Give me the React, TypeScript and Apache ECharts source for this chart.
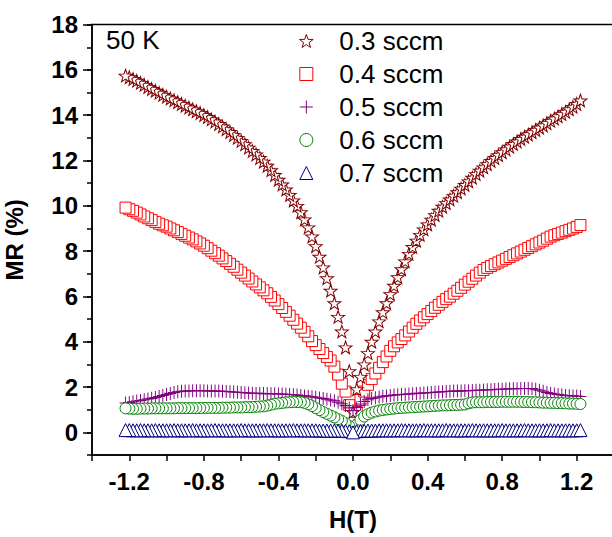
import React, { useEffect, useRef } from 'react';
import * as echarts from 'echarts';

// Magnetic field H (T)
const H = [
  -1.22, -1.2, -1.18, -1.16, -1.14, -1.12, -1.1, -1.08, -1.06, -1.04, -1.02, -1.0,
  -0.98, -0.96, -0.94, -0.92, -0.9, -0.88, -0.86, -0.84, -0.82, -0.8,
  -0.78, -0.76, -0.74, -0.72, -0.7, -0.68, -0.66, -0.64, -0.62, -0.6,
  -0.58, -0.56, -0.54, -0.52, -0.5, -0.48, -0.46, -0.44, -0.42, -0.4,
  -0.38, -0.36, -0.34, -0.32, -0.3, -0.28, -0.26, -0.24, -0.22, -0.2,
  -0.18, -0.16, -0.14, -0.12, -0.1, -0.08, -0.06, -0.04, -0.02, 0,
  0.02, 0.04, 0.06, 0.08, 0.1, 0.12, 0.14, 0.16, 0.18, 0.2,
  0.22, 0.24, 0.26, 0.28, 0.3, 0.32, 0.34, 0.36, 0.38, 0.4,
  0.42, 0.44, 0.46, 0.48, 0.5, 0.52, 0.54, 0.56, 0.58, 0.6,
  0.62, 0.64, 0.66, 0.68, 0.7, 0.72, 0.74, 0.76, 0.78, 0.8,
  0.82, 0.84, 0.86, 0.88, 0.9, 0.92, 0.94, 0.96, 0.98, 1.0,
  1.02, 1.04, 1.06, 1.08, 1.1, 1.12, 1.14, 1.16, 1.18, 1.2, 1.22,
];

// MR (%) for each gas flow
const MR_03 = [
  15.75, 15.68, 15.6, 15.52, 15.43, 15.34, 15.25, 15.16, 15.08, 14.99, 14.9, 14.82,
  14.74, 14.66, 14.58, 14.5, 14.42, 14.34, 14.26, 14.18, 14.1, 14.01,
  13.92, 13.82, 13.72, 13.61, 13.5, 13.38, 13.26, 13.13, 13.0, 12.86,
  12.72, 12.57, 12.42, 12.27, 12.11, 11.95, 11.77, 11.57, 11.36, 11.15,
  10.94, 10.72, 10.48, 10.24, 10.0, 9.72, 9.4, 9.05, 8.65, 8.22,
  7.75, 7.28, 6.8, 6.25, 5.7, 5.1, 4.45, 3.75, 2.7, 0.9,
  1.9, 2.45, 3.0, 3.5, 4.0, 4.45, 4.9, 5.3, 5.7, 6.1,
  6.47, 6.85, 7.2, 7.55, 7.88, 8.18, 8.46, 8.72, 8.96, 9.18,
  9.39, 9.59, 9.78, 9.96, 10.12, 10.28, 10.44, 10.6, 10.76, 10.92,
  11.08, 11.24, 11.4, 11.55, 11.7, 11.84, 11.98, 12.11, 12.24, 12.37,
  12.49, 12.61, 12.73, 12.84, 12.95, 13.05, 13.15, 13.25, 13.35, 13.45,
  13.55, 13.65, 13.75, 13.85, 13.95, 14.05, 14.15, 14.26, 14.37, 14.5, 14.65,
];

const MR_04 = [
  9.92, 9.85, 9.78, 9.7, 9.62, 9.53, 9.45, 9.37, 9.29, 9.21, 9.14, 9.08,
  9.0, 8.92, 8.84, 8.76, 8.68, 8.6, 8.52, 8.43, 8.34, 8.24,
  8.13, 8.02, 7.91, 7.8, 7.68, 7.56, 7.44, 7.31, 7.18, 7.05,
  6.92, 6.79, 6.66, 6.53, 6.4, 6.27, 6.14, 5.98, 5.82, 5.66,
  5.49, 5.32, 5.15, 4.97, 4.8, 4.62, 4.44, 4.24, 4.03, 3.85,
  3.68, 3.5, 3.33, 3.17, 2.9, 2.55, 2.15, 1.8, 1.2, 0.05,
  0.9, 1.43, 1.8, 2.1, 2.35, 2.6, 2.85, 3.1, 3.35, 3.6,
  3.8, 3.97, 4.12, 4.28, 4.45, 4.62, 4.79, 4.94, 5.08, 5.22,
  5.36, 5.5, 5.63, 5.76, 5.88, 5.99, 6.12, 6.25, 6.38, 6.52,
  6.65, 6.78, 6.92, 7.05, 7.17, 7.26, 7.34, 7.42, 7.5, 7.58,
  7.66, 7.74, 7.82, 7.9, 7.98, 8.06, 8.14, 8.22, 8.3, 8.38,
  8.46, 8.55, 8.64, 8.7, 8.76, 8.82, 8.88, 8.94, 9.0, 9.07, 9.15,
];

const MR_05 = [
  1.3, 1.32, 1.35, 1.38, 1.41, 1.44, 1.47, 1.5, 1.54, 1.58, 1.63, 1.67,
  1.72, 1.76, 1.79, 1.81, 1.82, 1.83, 1.84, 1.84, 1.84, 1.84,
  1.83, 1.83, 1.82, 1.82, 1.81, 1.8, 1.79, 1.78, 1.77, 1.76,
  1.75, 1.74, 1.73, 1.72, 1.72, 1.71, 1.71, 1.7, 1.7, 1.69,
  1.69, 1.68, 1.67, 1.66, 1.65, 1.63, 1.61, 1.59, 1.57, 1.55,
  1.52, 1.49, 1.46, 1.43, 1.39, 1.33, 1.26, 1.18, 1.08, 0.95,
  1.1, 1.25, 1.36, 1.44, 1.49, 1.53, 1.56, 1.59, 1.61, 1.63,
  1.65, 1.66, 1.67, 1.68, 1.69, 1.7, 1.72, 1.73, 1.74, 1.75,
  1.76, 1.77, 1.78, 1.79, 1.8, 1.81, 1.82, 1.82, 1.83, 1.84,
  1.84, 1.85, 1.86, 1.86, 1.87, 1.88, 1.88, 1.89, 1.9, 1.9,
  1.91, 1.92, 1.92, 1.93, 1.94, 1.94, 1.94, 1.93, 1.9, 1.86,
  1.81, 1.76, 1.72, 1.69, 1.67, 1.65, 1.63, 1.62, 1.61, 1.6, 1.58,
];

const MR_06 = [
  1.06, 1.05, 1.04, 1.04, 1.05, 1.05, 1.05, 1.06, 1.06, 1.06, 1.06, 1.06,
  1.06, 1.06, 1.07, 1.07, 1.07, 1.07, 1.07, 1.07, 1.07, 1.08,
  1.08, 1.08, 1.08, 1.08, 1.09, 1.09, 1.09, 1.1, 1.1, 1.1,
  1.11, 1.11, 1.12, 1.13, 1.14, 1.15, 1.18, 1.22, 1.26, 1.28,
  1.3, 1.32, 1.33, 1.34, 1.34, 1.33, 1.3, 1.24, 1.16, 1.07,
  0.98, 0.9, 0.82, 0.74, 0.66, 0.58, 0.5, 0.4, 0.28, 0.02,
  0.35, 0.55, 0.7, 0.8, 0.87, 0.92, 0.96, 0.99, 1.01, 1.03,
  1.05, 1.07, 1.08, 1.09, 1.1, 1.11, 1.12, 1.13, 1.14, 1.15,
  1.16, 1.17, 1.18, 1.19, 1.19, 1.2, 1.21, 1.21, 1.22, 1.23,
  1.28, 1.32, 1.33, 1.33, 1.33, 1.34, 1.34, 1.34, 1.34, 1.35,
  1.35, 1.35, 1.35, 1.35, 1.35, 1.34, 1.34, 1.33, 1.33, 1.32,
  1.31, 1.31, 1.3, 1.3, 1.29, 1.29, 1.28, 1.27, 1.27, 1.26, 1.25,
];

const MR_07 = [
  0.1, 0.1, 0.09, 0.09, 0.1, 0.09, 0.09, 0.09, 0.1, 0.09, 0.09, 0.09,
  0.09, 0.1, 0.09, 0.09, 0.09, 0.09, 0.1, 0.09, 0.09, 0.09,
  0.09, 0.09, 0.1, 0.09, 0.09, 0.09, 0.09, 0.09, 0.09, 0.1,
  0.09, 0.09, 0.09, 0.09, 0.09, 0.09, 0.1, 0.09, 0.09, 0.09,
  0.09, 0.09, 0.09, 0.1, 0.09, 0.09, 0.09, 0.09, 0.09, 0.09,
  0.08, 0.08, 0.08, 0.08, 0.08, 0.07, 0.07, 0.06, 0.05, 0.0,
  0.05, 0.06, 0.07, 0.08, 0.08, 0.08, 0.09, 0.09, 0.09, 0.09,
  0.09, 0.09, 0.1, 0.09, 0.09, 0.09, 0.09, 0.09, 0.1, 0.09,
  0.09, 0.09, 0.09, 0.09, 0.1, 0.09, 0.09, 0.09, 0.09, 0.09,
  0.09, 0.1, 0.09, 0.09, 0.09, 0.09, 0.09, 0.09, 0.09, 0.1,
  0.09, 0.09, 0.09, 0.09, 0.09, 0.1, 0.09, 0.09, 0.09, 0.09,
  0.09, 0.09, 0.1, 0.09, 0.09, 0.09, 0.09, 0.09, 0.09, 0.09, 0.1,
];

const SERIES_NAMES = ['0.3 sccm', '0.4 sccm', '0.5 sccm', '0.6 sccm', '0.7 sccm'];
const X_TICK_LABELS = ['-1.2', '-0.8', '-0.4', '0.0', '0.4', '0.8', '1.2'];
const Y_TICK_LABELS = ['0', '2', '4', '6', '8', '10', '12', '14', '16', '18'];
const TEMPERATURE = '50 K';

const FONT = "'Liberation Sans', Arial, Helvetica, sans-serif";

const STAR =
  'path://M50,0L61.76,33.82L97.55,34.55L69.02,56.18L79.39,90.45L50,70L20.61,90.45L30.98,56.18L2.45,34.55L38.24,33.82Z';
const SQUARE = 'path://M0,0L100,0L100,100L0,100Z';
const PLUS = 'path://M50,0L50,100M0,50L100,50';
const TRIANGLE = 'path://M50,0L100,100L0,100Z';

// draw order: right sweep outward, left sweep outward, zero-field point last
function drawOrder(): number[] {
  const c = H.indexOf(0);
  const o: number[] = [];
  for (let i = c + 1; i < H.length; i++) o.push(i);
  for (let i = c - 1; i >= 0; i--) o.push(i);
  o.push(c);
  return o;
}

export default function App() {
  const ref = useRef<HTMLDivElement>(null);

  useEffect(() => {
    if (!ref.current) return;
    const chart = echarts.init(ref.current, undefined, { renderer: 'svg' });
    const order = drawOrder();
    const pts = (mr: number[]) => order.map((i) => [H[i], mr[i]]);

    const axisLine = { show: true, onZero: false, lineStyle: { color: '#000', width: 1.5 } };
    const labelStyle = { fontSize: 24, fontWeight: 'bold', color: '#000', fontFamily: FONT };

    const mk = (name: string, mr: number[], symbol: string, size: any, color: string, z: number) => ({
      type: 'scatter',
      name,
      xAxisIndex: 0,
      yAxisIndex: 0,
      symbol,
      symbolSize: size,
      symbolKeepAspect: false,
      itemStyle: { color: '#fff', borderColor: color, borderWidth: 1, opacity: 1 },
      data: pts(mr),
      z,
      silent: true,
      emphasis: { disabled: true },
    });

    chart.setOption({
      animation: false,
      backgroundColor: '#fff',
      grid: [
        {
          left: 92,
          top: 24.6,
          width: 522,
          height: 430.4,
          show: true,
          borderColor: '#000',
          borderWidth: 1.5,
          containLabel: false,
          outerBoundsMode: 'none',
        },
        { left: 92, top: 24.6, width: 522, height: 407.7, show: false, containLabel: false, outerBoundsMode: 'none' },
      ],
      xAxis: [
        {
          gridIndex: 0,
          type: 'value',
          min: -1.4,
          max: 1.4,
          interval: 0.2,
          axisLine,
          axisTick: { show: true, length: 6, lineStyle: { color: '#000', width: 1.5 } },
          splitLine: { show: false },
          axisLabel: {
            ...labelStyle,
            margin: 14,
            formatter: (v: number) => {
              const s = Math.abs(v) < 1e-9 ? '0.0' : v.toFixed(1);
              return X_TICK_LABELS.includes(s) ? s : '';
            },
          },
          name: 'H(T)',
          nameLocation: 'middle',
          nameGap: 52,
          nameTextStyle: labelStyle,
        },
        {
          gridIndex: 1,
          type: 'value',
          min: -1.4,
          max: 1.4,
          axisLine: { show: false, onZero: false },
          axisTick: { show: false },
          axisLabel: { show: false },
          splitLine: { show: false },
        },
      ],
      yAxis: [
        {
          gridIndex: 0,
          type: 'value',
          min: -1,
          max: 18,
          interval: 1,
          axisLine,
          axisTick: { show: true, length: 5, lineStyle: { color: '#000', width: 1.5 } },
          axisLabel: { show: false },
          splitLine: { show: false },
          name: 'MR (%)',
          nameLocation: 'middle',
          nameGap: 66,
          nameTextStyle: labelStyle,
        },
        {
          gridIndex: 1,
          type: 'value',
          position: 'left',
          min: 0,
          max: 18,
          interval: 2,
          axisLine: { show: false, onZero: false },
          axisTick: { show: true, length: 9, lineStyle: { color: '#000', width: 1.5 } },
          splitLine: { show: false },
          axisLabel: {
            ...labelStyle,
            margin: 14,
            formatter: (v: number) => {
              const s = String(Math.round(v));
              return Y_TICK_LABELS.includes(s) ? s : '';
            },
          },
        },
      ],
      legend: {
        data: SERIES_NAMES,
        orient: 'vertical',
        left: 299,
        top: 28,
        padding: 0,
        itemWidth: 56,
        itemHeight: 13,
        itemGap: 7,
        selectedMode: false,
        itemStyle: { borderWidth: 1 },
        textStyle: { fontSize: 26, lineHeight: 26, color: '#000', fontFamily: FONT },
      },
      graphic: [
        {
          type: 'text',
          left: 106,
          top: 27,
          style: { text: TEMPERATURE, fontSize: 26, fontFamily: FONT, fill: '#000' },
        },
      ],
      series: [
        mk(SERIES_NAMES[1], MR_04, SQUARE, [11, 11], '#ff0000', 2),
        mk(SERIES_NAMES[0], MR_03, STAR, [13, 12.5], '#800000', 3),
        mk(SERIES_NAMES[2], MR_05, PLUS, [12, 13], '#800080', 4),
        mk(SERIES_NAMES[3], MR_06, 'circle', 11, '#008000', 5),
        mk(SERIES_NAMES[4], MR_07, TRIANGLE, [13, 13], '#000080', 6),
      ],
    });

    return () => chart.dispose();
  }, []);

  return (
    <div
      ref={ref}
      style={{ position: 'fixed', left: 0, top: 0, width: 612, height: 537, background: '#fff' }}
    />
  );
}
